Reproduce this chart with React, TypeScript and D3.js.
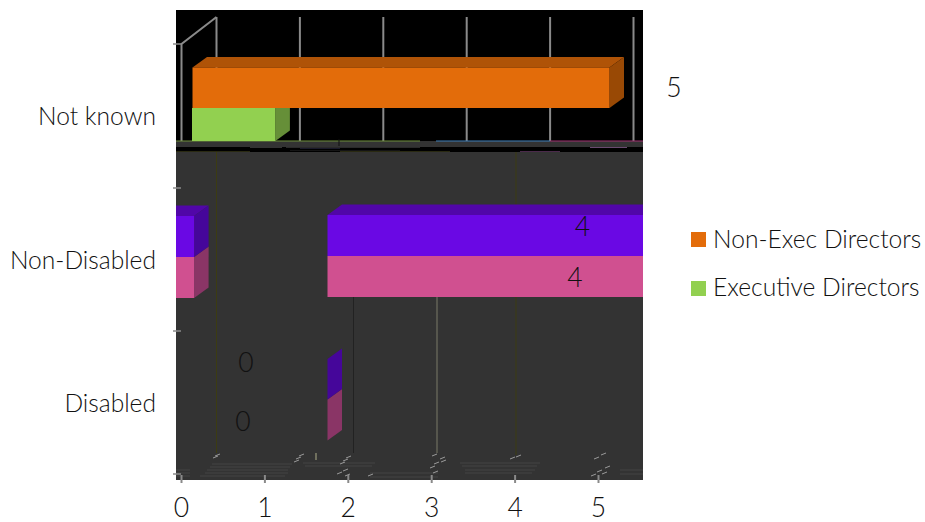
import React from "react";
import * as d3 from "d3";

const categories = ["Not known", "Non-Disabled", "Disabled"];
const legendNames = ["Non-Exec Directors", "Executive Directors"];
const tickValues = [0, 1, 2, 3, 4, 5];
const nonExecValues = [5, null, null];
const executiveValues = [1, null, null];
const purpleValues = [null, 4, 0];
const pinkValues = [null, 4, 0];
const shownLabels = ["5", "4", "4", "0", "0"];

const L = 176, R = 643, T = 10, B = 480;
const W = R - L;
const x = d3.scaleLinear().domain([0, 5]).range([181.5, 598.5]);
const unit = x(1) - x(0);
const font = "Lato, 'Open Sans', sans-serif";

type BarP = { start: number; value: number; top: number; h: number; front: string; topC: string; side: string };

function Bar3D({ start, value, top, h, front, topC, side, showTop = true }: BarP & { showTop?: boolean }) {
  const dx = 14.5, dy = 10.5;
  const len = value * unit;
  const end = start + len;
  const pieces: [number, number][] = end > R ? [[start, R + 30], [L - 30, end - W]] : [[start, end]];
  return (
    <g>
      {pieces.map(([a, b], i) => {
        const isEnd = b === end || b === end - W;
        const t = top + (i > 0 ? 1 : 0);
        return (
          <g key={i}>
            {showTop && <polygon points={`${a},${t} ${b},${t} ${b + dx},${t - dy} ${a + dx},${t - dy}`} fill={topC} />}
            {isEnd && <polygon points={`${b},${t} ${b + dx},${t - dy} ${b + dx},${t + h - dy} ${b},${t + h}`} fill={side} />}
            {b > a && <rect x={a} y={t} width={b - a} height={h} fill={front} />}
          </g>
        );
      })}
    </g>
  );
}

const floorDashes: [number, number][] = [
  [213, 458], [215, 456], [296, 459], [299, 456], [294, 462], [346, 458], [343, 461], [340, 464], [337, 474], [343, 471], [345, 476],
  [432, 456], [440, 459], [434, 464], [430, 468], [433, 473], [441, 462], [516, 457], [510, 459], [601, 455], [594, 459],
  [605, 468], [597, 472], [591, 476], [602, 474], [368, 476],
];
const floorLines: [number, number, number][] = [
  [176, 190, 476], [176, 190, 473], [176, 190, 470], [200, 285, 476], [205, 288, 473], [207, 288, 470], [210, 290, 467], [212, 292, 464],
  [303, 375, 463], [305, 372, 466], [370, 438, 477], [370, 438, 473], [460, 540, 463], [462, 537, 466], [465, 535, 470], [465, 532, 473], [620, 643, 470], [620, 643, 474],
];
const bandFragments: [number, number, number, string][] = [
  [250, 282, 147, "#333"], [286, 420, 147, "#2a2a2a"], [300, 340, 148, "#1a1a2a"], [290, 400, 150, "#141414"],
  [420, 470, 146, "#333"], [590, 627, 147, "#6a4a70"], [176, 250, 151, "#2a2a12"], [340, 450, 151, "#2a2a12"], [520, 560, 151, "#4a2a4a"],
];

export default function App() {
  return (
    <svg width={925} height={522} style={{ position: "absolute", left: 0, top: 0, background: "#fff" }}>
      <defs>
        <clipPath id="plot"><rect x={L} y={T} width={W} height={B - T} /></clipPath>
      </defs>
      <g clipPath="url(#plot)">
        <rect x={L} y={T} width={W} height={B - T} fill="#333" />
        <rect x={L} y={T} width={W} height={141 - T} fill="#000" />
        <rect x={L} y={147} width={W} height={5} fill="#000" />
        {bandFragments.map(([a, b, y, c], i) => <rect key={i} x={a} y={y} width={b - a} height={1} fill={c} />)}
        {tickValues.map((t) => (
          <line key={t} x1={x(t) + 35} x2={x(t) + 35} y1={17} y2={141} stroke="#8a8a8a" strokeWidth={2} />
        ))}
        <path d={`M${x(0)},141V44L${x(0) + 35},17`} fill="none" stroke="#8a8a8a" strokeWidth={2} />
        <line x1={176} x2={420} y1={141} y2={141} stroke="#6f8f3c" strokeWidth={1} />
        <line x1={436} x2={550} y1={141} y2={141} stroke="#3f7fb8" strokeWidth={1} />
        <line x1={550} x2={643} y1={141} y2={141} stroke="#a03070" strokeWidth={1} />
        <line x1={339} x2={339} y1={139} y2={146} stroke="#111" strokeWidth={1} />

        <line x1={216.5} x2={216.5} y1={152} y2={453} stroke="#3c3c12" strokeWidth={1} />
        <line x1={516} x2={516} y1={152} y2={455} stroke="#3c3c12" strokeWidth={1} />
        <line x1={353.5} x2={353.5} y1={297} y2={453} stroke="#222" strokeWidth={1} />
        <line x1={437} x2={437} y1={297} y2={453} stroke="#666659" strokeWidth={1.4} />

        {floorLines.map(([a, b, y], i) => <line key={i} x1={a} x2={b} y1={y} y2={y} stroke="#454545" strokeWidth={1} />)}
        {floorDashes.map(([a, y], i) => <line key={i} x1={a} x2={a + 5} y1={y} y2={y - 2} stroke="#9a9a9a" strokeWidth={1} />)}
        <line x1={316} x2={316} y1={453} y2={460} stroke="#8a8a70" strokeWidth={1.4} />

        {/* Not known */}
        <Bar3D start={192} value={executiveValues[0] as number} top={108} h={33} front="#92D050" topC="#92D050" side="#668F38" showTop={false} />
        <Bar3D start={192.5} value={nonExecValues[0] as number} top={67.5} h={40.5} front="#E36C0A" topC="#AF5307" side="#994905" />
        {/* Non-Disabled */}
        <Bar3D start={327.5} value={pinkValues[1] as number} top={256} h={41} front="#D05090" topC="#D05090" side="#8A3566" showTop={false} />
        <Bar3D start={327.5} value={purpleValues[1] as number} top={215} h={41} front="#6A08E4" topC="#5106A8" side="#45069A" />
        {/* Disabled */}
        <Bar3D start={327.5} value={pinkValues[2] as number} top={399.5} h={41} front="#D05090" topC="#D05090" side="#8A3566" showTop={false} />
        <Bar3D start={327.5} value={purpleValues[2] as number} top={359} h={40.5} front="#6A08E4" topC="#5106A8" side="#45069A" showTop={false} />
      </g>

      {[44, 188, 331, 474].map((y) => <line key={y} x1={173} x2={181} y1={y} y2={y} stroke="#8a8a8a" strokeWidth={1.5} />)}
      {tickValues.map((t) => <line key={t} x1={x(t)} x2={x(t)} y1={475} y2={483} stroke="#8a8a8a" strokeWidth={2} />)}

      <g fontFamily={font} fontWeight={300} fill="#111" fontSize={24.6}>
        {categories.map((c, i) => (
          <text key={c} x={156} y={[125, 269, 412][i]} textAnchor="end">{c}</text>
        ))}
        <g fontSize={26.5}>
          {tickValues.map((t) => <text key={t} x={x(t)} y={517} textAnchor="middle">{t}</text>)}
          <text x={674} y={97} textAnchor="middle">{shownLabels[0]}</text>
          <text x={582.5} y={236} textAnchor="middle">{shownLabels[1]}</text>
          <text x={575} y={287} textAnchor="middle">{shownLabels[2]}</text>
          <text x={246} y={372} textAnchor="middle">{shownLabels[3]}</text>
          <text x={243} y={431} textAnchor="middle">{shownLabels[4]}</text>
        </g>
        {legendNames.map((n, i) => (
          <g key={n}>
            <rect x={691} y={232 + i * 49} width={15} height={15} fill={i === 0 ? "#E36C0A" : "#92D050"} />
            <text x={713} y={248 + i * 48}>{n}</text>
          </g>
        ))}
      </g>
    </svg>
  );
}
